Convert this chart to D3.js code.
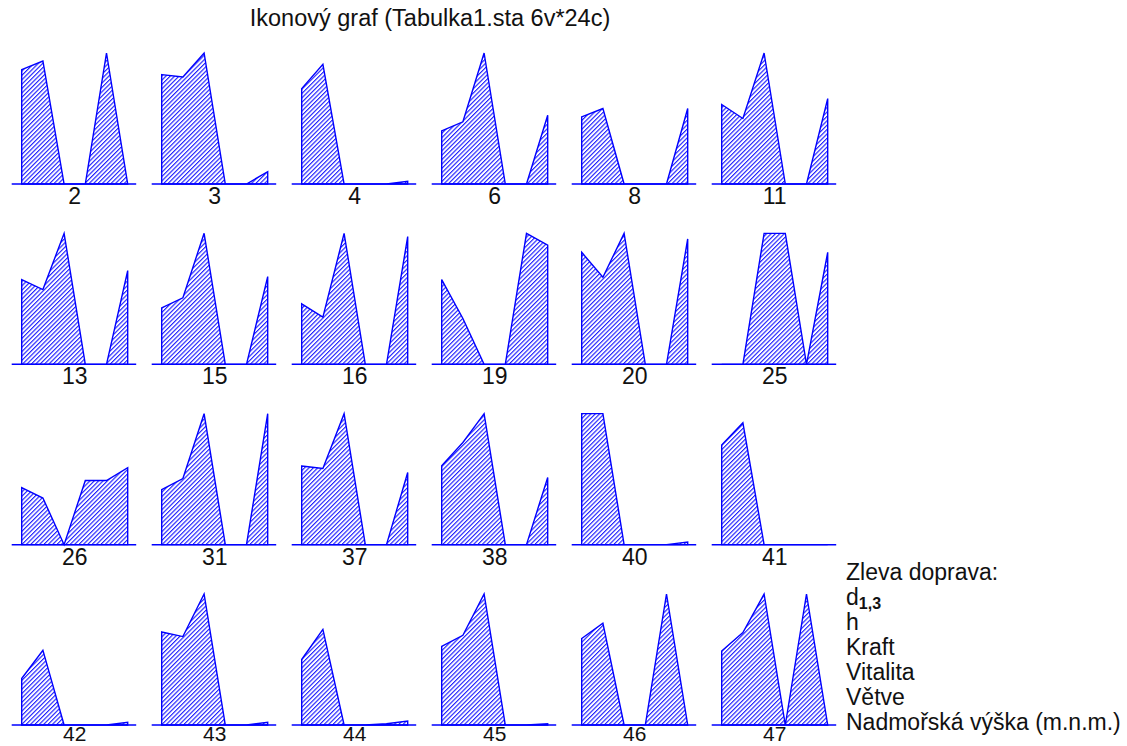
<!DOCTYPE html>
<html>
<head>
<meta charset="utf-8">
<script src="https://cdn.jsdelivr.net/npm/d3@7"></script>
<style>
  body { margin: 0; background: #fff; }
  text { font-family: "Liberation Sans", Arial, sans-serif; fill: #111; }
</style>
</head>
<body>
<svg id="icons" width="1127" height="746"></svg>
<script>
// cases (row by row, left to right)
const cases = [2, 3, 4, 6, 8, 11, 13, 15, 16, 19, 20, 25, 26, 31, 37, 38, 40, 41, 42, 43, 44, 45, 46, 47];
// variable values, each scaled to its own range 0..1
const d13      = [0.873, 0.835, 0.728, 0.406, 0.513, 0.607, 0.647, 0.431, 0.462, 0.647, 0.855, 0, 0.436, 0.42, 0.6, 0.603, 1, 0.76, 0.355, 0.71, 0.5, 0.6, 0.66, 0.565];
const h        = [0.939, 0.817, 0.914, 0.475, 0.576, 0.5, 0.571, 0.508, 0.36, 0.35, 0.665, 0, 0.356, 0.505, 0.582, 0.78, 1, 0.93, 0.57, 0.675, 0.73, 0.685, 0.777, 0.706];
const kraft    = [0, 1, 0, 1, 0, 1, 1, 1, 1, 0, 1, 1, 0, 1, 1, 1, 0, 0, 0, 1, 0, 1, 0, 1];
const vitalita = [0, 0, 0, 0, 0, 0, 0, 0, 0, 0, 0, 1, 0.49, 0, 0, 0, 0, 0, 0, 0, 0, 0, 0, 0];
const vetve    = [1, 0, 0, 0, 0, 0, 0, 0, 0, 1, 0, 0, 0.49, 0, 0, 0, 0, 0, 0, 0, 0.01, 0, 1, 1];
const vyska    = [0, 0.094, 0.02, 0.525, 0.576, 0.652, 0.716, 0.67, 0.975, 0.91, 0.957, 0.855, 0.587, 1, 0.551, 0.513, 0.02, 0, 0.02, 0.02, 0.03, 0.01, 0, 0];
const series = [d13, h, kraft, vitalita, vetve, vyska];
const legend_lines = ["h", "Kraft", "Vitalita", "Větve", "Nadmořská výška (m.n.m.)"];

const svg = d3.select("svg#icons");
const blue = "#0000ff";
const n_cols = 6;
const icon_height = 131;
const step = 21.2;

const col_scale = d3.scaleLinear([0, n_cols - 1], [74.7, 774.7]);
const row_scale = d3.scaleLinear([0, 3], [184, 725]);

// hatch fill
const pat = svg.append("defs").append("pattern")
  .attr("id", "hatch")
  .attr("patternUnits", "userSpaceOnUse")
  .attr("width", 3.1)
  .attr("height", 3.1)
  .attr("patternTransform", "rotate(45)");
pat.append("rect").attr("width", 3.1).attr("height", 3.1).attr("fill", "#fff");
pat.append("line")
  .attr("x1", 0.6).attr("y1", 0)
  .attr("x2", 0.6).attr("y2", 3.1)
  .attr("stroke", blue)
  .attr("stroke-width", 1);

svg.append("text")
  .attr("x", 430)
  .attr("y", 26)
  .attr("text-anchor", "middle")
  .style("font-size", "23.5px")
  .text("Ikonový graf (Tabulka1.sta 6v*24c)");

const icons = svg.selectAll("g.icon")
  .data(cases)
  .join("g")
  .attr("class", "icon");

icons.each(function (label, k) {
  const g = d3.select(this);
  const cx = col_scale(k % n_cols);
  const base = row_scale(Math.floor(k / n_cols));
  const x = d3.scaleLinear([0, 5], [cx - 2.5 * step, cx + 2.5 * step]);
  const y = d3.scaleLinear([0, 1], [base, base - icon_height]);
  const vals = series.map(s => s[k]);

  const area = d3.area()
    .x((d, i) => x(i))
    .y0(base)
    .y1(d => y(d));

  g.append("path")
    .attr("d", area(vals))
    .attr("fill", "url(#hatch)")
    .attr("stroke", blue)
    .attr("stroke-width", 1.4)
    .attr("stroke-linejoin", "miter");

  g.append("line")
    .attr("x1", cx - 63).attr("x2", cx + 61.5)
    .attr("y1", base).attr("y2", base)
    .attr("stroke", blue)
    .attr("stroke-width", 1.5);

  // bottom row labels a bit smaller so they stay inside the page
  const last_row = base + 20 > 740;
  g.append("text")
    .attr("x", cx)
    .attr("y", last_row ? 741 : base + 20)
    .attr("text-anchor", "middle")
    .style("font-size", last_row ? "21px" : "23px")
    .text(label);
});

// legend
const legend = svg.append("g").attr("transform", "translate(846, 580)");
legend.append("text")
  .style("font-size", "23px")
  .text("Zleva doprava:");
const first = legend.append("text")
  .attr("y", 25)
  .style("font-size", "23px");
first.append("tspan").text("d");
first.append("tspan")
  .attr("dy", 4)
  .style("font-size", "16px")
  .style("font-weight", "bold")
  .text("1,3");
legend.selectAll("text.var")
  .data(legend_lines)
  .join("text")
  .attr("class", "var")
  .attr("y", (d, i) => 50 + i * 25)
  .style("font-size", "23px")
  .text(d => d);
</script>
</body>
</html>
